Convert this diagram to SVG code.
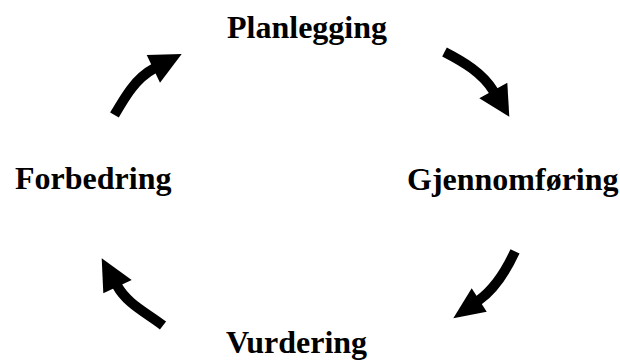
<svg xmlns="http://www.w3.org/2000/svg" width="620" height="360" viewBox="0 0 620 360">
<style>
.lbl{font-family:"Liberation Serif","Times New Roman",serif;font-weight:bold;font-size:32px;fill:#000}
.shaft{fill:none;stroke:#000;stroke-width:10;stroke-linecap:butt}
.head{fill:#000}
</style>
<rect width="620" height="360" fill="#fff"/>
<g id="node-planlegging"><text class="lbl" x="227" y="38">Planlegging</text></g>
<g id="node-gjennomforing"><text class="lbl" x="407" y="190">Gjennomføring</text></g>
<g id="node-vurdering"><text class="lbl" x="226" y="353">Vurdering</text></g>
<g id="node-forbedring"><text class="lbl" x="15" y="189">Forbedring</text></g>
<g id="connectors">
  <path class="shaft" d="M114.5,115 C124.5,97.7 135.6,78.1 154,68.5"/>
  <polygon class="head" points="146.7,55 181.7,54 160,82.7"/>
  <path class="shaft" d="M444.5,52 C462.9,61.5 482.5,72.8 493.8,91.5"/>
  <polygon class="head" points="479.3,98.3 507.3,82.7 509.3,116.7"/>
  <path class="shaft" d="M515,251.3 C506.6,269.6 495.6,288.4 478.5,300.5"/>
  <polygon class="head" points="471.7,288.3 486.7,311.7 453.3,318.3"/>
  <path class="shaft" d="M163,325.5 C147.3,313.1 127.2,304.2 117,285.5"/>
  <polygon class="head" points="101.7,258.3 103.3,293.3 131.7,280"/>
</g>
</svg>
